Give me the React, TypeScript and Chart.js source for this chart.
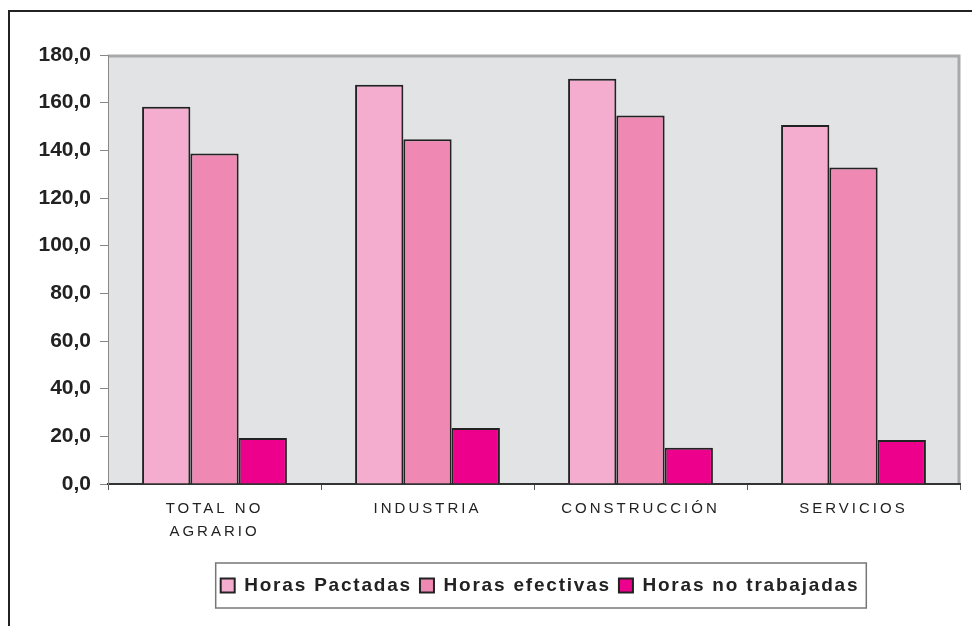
import React, { useEffect, useRef } from "react";
import { Chart, registerables } from "chart.js";

Chart.register(...registerables);

const categories: (string | string[])[] = [["TOTAL NO", "AGRARIO"], "INDUSTRIA", "CONSTRUCCIÓN", "SERVICIOS"];
const seriesNames = ["Horas Pactadas", "Horas efectivas", "Horas no trabajadas"];
const pactadas = [158.3, 167.5, 170.0, 150.6];
const efectivas = [138.7, 144.7, 154.6, 132.8];
const noTrabajadas = [19.3, 23.5, 15.2, 18.5];
const yMin = 0;
const yMax = 180;
const yStep = 20;

const colors = ["#f4adcf", "#f088b4", "#ec008c"];
const FONT = "'Liberation Sans', Arial, sans-serif";
const LEGEND_SHIFT = 6;

const customPlugin = {
  id: "custom",
  afterInit(chart: any) {
    const lg = chart.legend;
    if (lg && !lg._wrapped) {
      const of = lg.fit.bind(lg);
      const od = lg.draw.bind(lg);
      lg.fit = function () {
        const ctx = chart.ctx;
        ctx.save();
        ctx.letterSpacing = "1.8px";
        of();
        ctx.restore();
      };
      lg.draw = function () {
        const ctx = chart.ctx;
        ctx.save();
        ctx.translate(LEGEND_SHIFT, 0);
        ctx.letterSpacing = "1.8px";
        od();
        ctx.restore();
      };
      lg._wrapped = true;
    }
  },
  afterLayout(chart: any) {
    const s = chart.scales.x;
    if (s && !s._wrapped) {
      const o = s.drawLabels.bind(s);
      s.drawLabels = function (area: any) {
        const ctx = s.ctx;
        ctx.save();
        ctx.letterSpacing = "3px";
        o(area);
        ctx.restore();
      };
      s._wrapped = true;
    }
  },
  beforeDraw(chart: any) {
    const { ctx, chartArea: a } = chart;
    ctx.save();
    ctx.fillStyle = "#e2e3e5";
    ctx.fillRect(a.left, a.top, a.right - a.left, a.bottom - a.top);
    ctx.strokeStyle = "#a9a9ab";
    ctx.lineWidth = 3;
    ctx.beginPath();
    ctx.moveTo(a.left, a.top + 1);
    ctx.lineTo(a.right - 1, a.top + 1);
    ctx.lineTo(a.right - 1, a.bottom);
    ctx.stroke();
    ctx.restore();
  },
  afterDraw(chart: any) {
    const lg = chart.legend;
    if (!lg || !lg.legendHitBoxes || !lg.legendHitBoxes.length) return;
    const hb = lg.legendHitBoxes;
    let l = Infinity, r = -Infinity, t = Infinity, b = -Infinity;
    hb.forEach((h: any) => {
      l = Math.min(l, h.left);
      r = Math.max(r, h.left + h.width);
      t = Math.min(t, h.top);
      b = Math.max(b, h.top + h.height);
    });
    const ctx = chart.ctx;
    ctx.save();
    ctx.strokeStyle = "#777";
    ctx.lineWidth = 1.5;
    ctx.strokeRect(l - 5 + LEGEND_SHIFT, t - 13, r - l + 12, b - t + 26);
    ctx.restore();
  },
};

export default function App() {
  const ref = useRef<HTMLCanvasElement | null>(null);
  useEffect(() => {
    if (!ref.current) return;
    const chart = new Chart(ref.current, {
      type: "bar",
      data: {
        labels: categories,
        datasets: [
          { label: seriesNames[0], data: pactadas, backgroundColor: colors[0], borderColor: "#222", borderWidth: 2 },
          { label: seriesNames[1], data: efectivas, backgroundColor: colors[1], borderColor: "#222", borderWidth: 2 },
          { label: seriesNames[2], data: noTrabajadas, backgroundColor: colors[2], borderColor: "#222", borderWidth: 2 },
        ],
      },
      options: {
        responsive: false,
        animation: false,
        events: [],
        layout: { padding: { top: 43, right: 20, left: 0, bottom: 23 } },
        datasets: { bar: { categoryPercentage: 0.68, barPercentage: 1.0 } },
        plugins: {
          tooltip: { enabled: false },
          legend: {
            position: "bottom",
            fullSize: false,
            labels: {
              boxWidth: 14,
              boxHeight: 14,
              padding: 8,
              color: "#222",
              font: { family: FONT, size: 19, weight: "bold" },
            },
          },
        },
        scales: {
          x: {
            grid: { display: true, drawOnChartArea: false, tickLength: 6, color: "#555", offset: true },
            border: { display: true, color: "#333", width: 2 },
            ticks: {
              color: "#222",
              font: { family: FONT, size: 15, lineHeight: 1.55 },
              padding: 7,
              maxRotation: 0,
              autoSkip: false,
            },
            afterFit(scale: any) {
              scale.height = 84;
            },
          },
          y: {
            min: yMin,
            max: yMax,
            grid: { display: true, drawOnChartArea: false, tickLength: 8, color: "#888" },
            border: { display: true, color: "#888", width: 1 },
            ticks: {
              stepSize: yStep,
              color: "#222",
              padding: 9,
              font: { family: FONT, size: 21, weight: "bold" },
              callback: (v: any) => Number(v).toFixed(1).replace(".", ","),
            },
            afterFit(scale: any) {
              scale.width = 98;
            },
          },
        },
      },
      plugins: [customPlugin],
    });
    return () => chart.destroy();
  }, []);

  return (
    <div
      style={{
        position: "relative",
        top: 2,
        width: 970,
        height: 616,
        borderLeft: "2px solid #222",
        borderTop: "2px solid #222",
        background: "#fff",
      }}
    >
      <canvas ref={ref} width={970} height={616} style={{ display: "block" }} />
    </div>
  );
}
